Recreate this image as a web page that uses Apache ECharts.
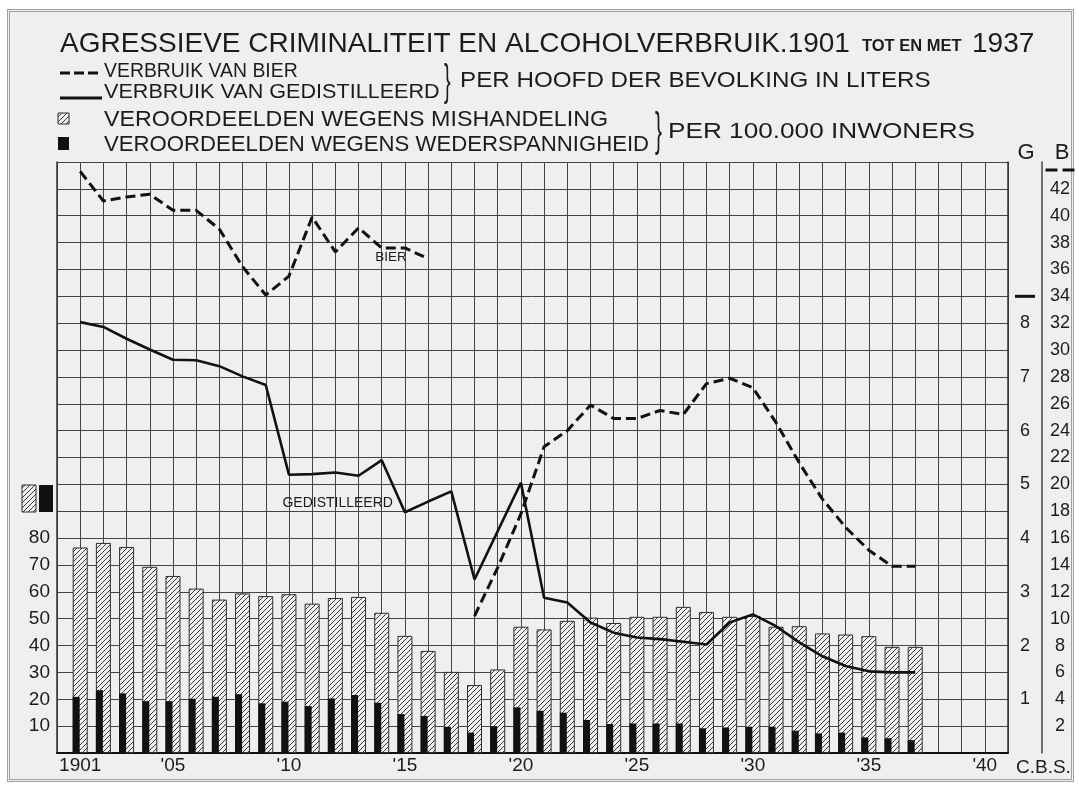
<!DOCTYPE html>
<html><head><meta charset="utf-8">
<script src="https://cdn.jsdelivr.net/npm/echarts@6/dist/echarts.min.js"></script>
<style>
html,body{margin:0;padding:0;background:#fff;width:1079px;height:789px;overflow:hidden;}
#frame{position:absolute;left:7px;top:9px;width:1061px;height:767px;border:3px double #a0a0a0;background:#efefef;}
#chart{position:absolute;left:0;top:0;width:1079px;height:789px;}
</style></head><body>
<div id="frame"></div><div id="chart"></div>
<script>
// ---- data ----
const years = [1901,1902,1903,1904,1905,1906,1907,1908,1909,1910,1911,1912,1913,1914,1915,1916,1917,1918,1919,1920,1921,1922,1923,1924,1925,1926,1927,1928,1929,1930,1931,1932,1933,1934,1935,1936,1937];
// veroordeelden wegens mishandeling, per 100.000 inwoners (left scale)
const mishandeling = [76.5,78.2,76.7,69.3,65.9,61.2,57.1,59.4,58.4,59.1,55.6,57.7,58.1,52.2,43.6,38.0,30.2,25.3,31.1,47.0,46.0,49.2,50.4,48.4,50.7,50.7,54.4,52.5,50.7,51.0,47.0,47.2,44.5,44.1,43.5,39.5,39.5];
// veroordeelden wegens wederspannigheid, per 100.000 inwoners (left scale)
const wederspannigheid = [20.9,23.4,22.2,19.3,19.3,20.2,20.9,21.9,18.5,19.1,17.5,20.3,21.6,18.7,14.5,13.8,9.8,7.6,10.0,17.0,15.7,15.0,12.3,10.8,11.0,11.0,11.0,9.2,9.5,9.8,9.8,8.3,7.3,7.6,5.8,5.5,4.8];
// verbruik van bier, liters per hoofd (scale B)
const bier = [43.3,41.1,41.4,41.6,40.4,40.4,39.0,36.2,34.1,35.5,39.9,37.3,39.1,37.6,37.6,36.8,null,10.2,13.8,17.8,22.8,24.0,25.9,24.9,24.9,25.5,25.2,27.5,27.9,27.2,24.6,21.6,18.9,16.8,15.1,13.9,13.9];
// verbruik van gedistilleerd, liters per hoofd (scale G)
const gedistilleerd = [8.02,7.93,7.71,7.51,7.32,7.31,7.20,7.01,6.85,5.18,5.19,5.22,5.16,5.45,4.48,4.68,4.87,3.23,4.13,5.03,2.89,2.80,2.43,2.24,2.15,2.12,2.07,2.02,2.43,2.58,2.36,2.06,1.80,1.62,1.52,1.50,1.50];
const leftTicks = [10,20,30,40,50,60,70,80];
const gTicks = [1,2,3,4,5,6,7,8];
const bTicks = [2,4,6,8,10,12,14,16,18,20,22,24,26,28,30,32,34,36,38,40,42];
const xLabelYears = [1901,1905,1910,1915,1920,1925,1930,1935,1940];

// ---- styles ----
const FONT = '"Liberation Sans", Arial, sans-serif';
const INK = '#1c1c1c';
function hatchCanvas(){
  const c = document.createElement('canvas'); c.width = 5; c.height = 5;
  const g = c.getContext('2d');
  g.fillStyle = '#efefef'; g.fillRect(0,0,5,5);
  g.strokeStyle = '#3a3a3a'; g.lineWidth = 1;
  g.beginPath(); g.moveTo(-1,6); g.lineTo(6,-1); g.stroke();
  return c;
}
const hatch = {image: hatchCanvas(), repeat: 'repeat'};

function pairs(vals){ return years.map((y,i)=>[y, vals[i]===null ? '-' : vals[i]]); }

function txt(text, x, y, size, sx, opts){
  return Object.assign({type:'text', x:x, y:y, scaleX:sx||1, silent:true,
    style:{text:text, fontSize:size, fontFamily:FONT, fill:INK, align:'left', verticalAlign:'middle'}}, opts||{});
}

const chart = echarts.init(document.getElementById('chart'), null, {renderer:'canvas'});
const option = {
  backgroundColor: 'transparent',
  animation: false,
  grid: {left:57, right:71, top:162, bottom:36, containLabel:false},
  xAxis: {
    type:'value', min:1900, max:1941, interval:1,
    axisLine:{show:true, lineStyle:{color:'#111', width:2}},
    axisTick:{show:false},
    splitLine:{show:true, lineStyle:{color:'#444', width:1}},
    axisLabel:{
      margin:3, fontSize:19, fontFamily:FONT, color:INK,
      formatter: function(v){
        if (xLabelYears.indexOf(v) < 0) return '';
        if (v === 1901) return '1901';
        return "'" + String(v % 100).padStart(2,'0');
      }
    },
    name:'C.B.S.', nameLocation:'end', nameGap:8,
    nameTextStyle:{fontSize:19, fontFamily:FONT, color:INK, verticalAlign:'top', padding:[5,0,0,0]}
  },
  yAxis: [
    { type:'value', position:'left', min:0, max:220, interval:10,
      axisLine:{show:true, lineStyle:{color:'#333', width:1.5}},
      axisTick:{show:false},
      splitLine:{show:true, lineStyle:{color:'#444', width:1}},
      axisLabel:{margin:7, fontSize:19, fontFamily:FONT, color:INK,
        formatter: v => leftTicks.indexOf(v) >= 0 ? String(v) : ''}
    },
    { type:'value', position:'right', min:0, max:11, interval:0.5,
      axisLine:{show:true, lineStyle:{color:'#333', width:1.5}},
      axisTick:{show:false}, splitLine:{show:false},
      axisLabel:{margin:17, align:'center', fontSize:18, fontFamily:FONT, color:INK,
        formatter: v => gTicks.indexOf(v) >= 0 ? String(v) : (v === 8.5 ? '{m|}' : ''),
        rich:{ m:{width:20, height:3, backgroundColor:'#111'} } }
    },
    { type:'value', position:'right', offset:34, min:0, max:44, interval:2,
      axisLine:{show:true, lineStyle:{color:'#444', width:1.5}},
      axisTick:{show:false}, splitLine:{show:false},
      axisLabel:{margin:18, align:'center', fontSize:18, fontFamily:FONT, color:INK,
        formatter: v => bTicks.indexOf(v) >= 0 ? String(v) : (v === 44 ? '{e|}{d|}{s|}{d|}' : ''),
        rich:{ e:{width:0, height:19}, s:{width:5, height:3},
               d:{width:12, height:3, backgroundColor:'#111', verticalAlign:'bottom'} } }
    }
  ],
  series: [
    { name:'VEROORDEELDEN WEGENS WEDERSPANNIGHEID', type:'bar', xAxisIndex:0, yAxisIndex:0,
      data: pairs(wederspannigheid), barWidth:7, barGap:'-100%', z:4,
      itemStyle:{color:'#111'} },
    { name:'VEROORDEELDEN WEGENS MISHANDELING', type:'bar', xAxisIndex:0, yAxisIndex:0,
      data: pairs(mishandeling), barWidth:15, z:3,
      itemStyle:{color:hatch, borderColor:'#2e2e2e', borderWidth:1} },
    { name:'VERBRUIK VAN BIER', type:'line', xAxisIndex:0, yAxisIndex:2,
      data: pairs(bier), showSymbol:false, symbol:'none', connectNulls:false, z:6,
      lineStyle:{color:'#111', width:3, type:[10,5]},
      markPoint:{ symbol:'circle', symbolSize:0, silent:true,
        label:{show:true, position:'inside', formatter:'BIER', fontSize:13.5, fontFamily:FONT, color:INK},
        data:[{coord:[1914.4, 36.9]}] } },
    { name:'VERBRUIK VAN GEDISTILLEERD', type:'line', xAxisIndex:0, yAxisIndex:1,
      data: pairs(gedistilleerd), showSymbol:false, symbol:'none', z:6,
      lineStyle:{color:'#111', width:2.6},
      markPoint:{ symbol:'circle', symbolSize:0, silent:true,
        label:{show:true, position:'inside', formatter:'GEDISTILLEERD', fontSize:14, fontFamily:FONT, color:INK},
        data:[{coord:[1912.1, 4.65]}] } }
  ],
  graphic: [
    // title
    txt('AGRESSIEVE CRIMINALITEIT EN ALCOHOLVERBRUIK.1901', 60, 44, 28, 1),
    txt('TOT EN MET', 862, 46, 16, 1, {style:{text:'TOT EN MET', fontSize:16.5, fontWeight:'bold', fontFamily:FONT, fill:INK, align:'left', verticalAlign:'middle'}}),
    txt('1937', 972, 44, 28, 1),
    // legend: lines
    {type:'line', silent:true, shape:{x1:60, y1:73, x2:102, y2:73}, style:{stroke:'#111', lineWidth:3, lineDash:[10,4]}},
    txt('VERBRUIK VAN BIER', 104, 71, 20, 0.97),
    {type:'line', silent:true, shape:{x1:60, y1:98, x2:102, y2:98}, style:{stroke:'#111', lineWidth:3}},
    txt('VERBRUIK VAN GEDISTILLEERD', 104, 92, 20, 1.08),
    txt('}', 444, 83, 44, 0.45),
    txt('PER HOOFD DER BEVOLKING IN LITERS', 460, 81, 22, 1.10),
    // legend: bars
    {type:'rect', silent:true, shape:{x:58, y:113, width:11, height:11}, style:{fill:hatch, stroke:'#2e2e2e', lineWidth:1}},
    txt('VEROORDEELDEN WEGENS MISHANDELING', 104, 120, 22.5, 1.034),
    {type:'rect', silent:true, shape:{x:58, y:137, width:11, height:13}, style:{fill:'#111'}},
    txt('VEROORDEELDEN WEGENS WEDERSPANNIGHEID', 104, 145, 22.5, 0.985),
    txt('}', 655, 132, 46, 0.45),
    txt('PER 100.000 INWONERS', 668, 132, 22, 1.19),
    // axis headers
    {type:'text', silent:true, x:1026, y:153, style:{text:'G', fontSize:22, fontFamily:FONT, fill:INK, align:'center', verticalAlign:'middle'}},
    {type:'text', silent:true, x:1062, y:153, style:{text:'B', fontSize:22, fontFamily:FONT, fill:INK, align:'center', verticalAlign:'middle'}},
    // left legend swatches
    {type:'rect', silent:true, shape:{x:22, y:485, width:14, height:27}, style:{fill:hatch, stroke:'#2e2e2e', lineWidth:1}},
    {type:'rect', silent:true, shape:{x:39, y:485, width:14, height:27}, style:{fill:'#111'}}
  ]
};
chart.setOption(option);
</script>
</body></html>
